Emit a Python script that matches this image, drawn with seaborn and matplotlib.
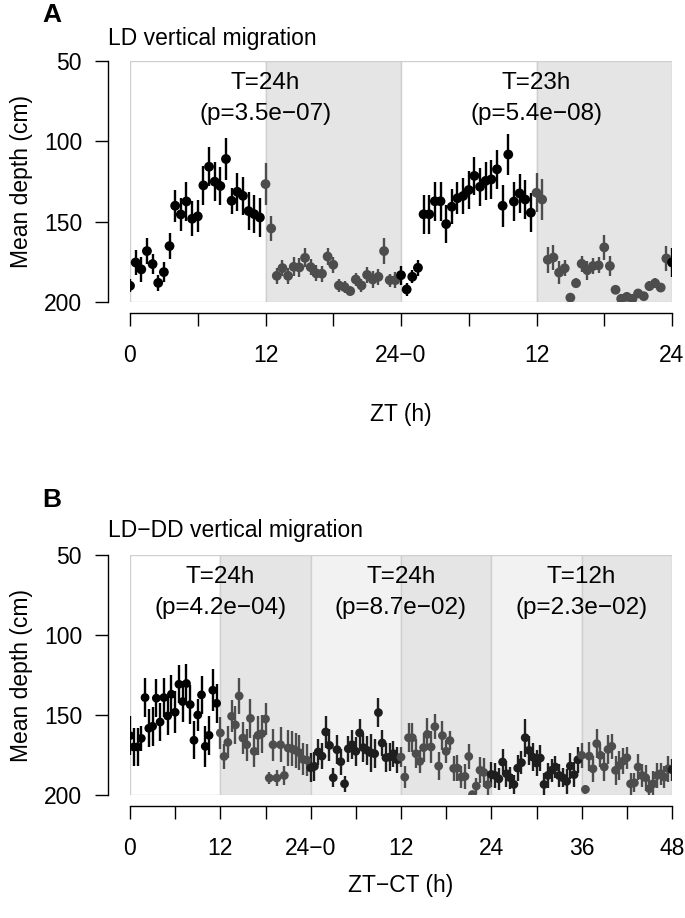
import numpy as np
import pandas as pd
import matplotlib
matplotlib.use("Agg")
import matplotlib.pyplot as plt
import seaborn as sns

# ---- data ----
hours_a = np.arange(0, 48.5, 0.5)
depth_a = [
    189.9, 175.4, 179.7, 168.3, 176.4, 188.1, 181.4, 165.2, 140.1, 145.5,
    137.4, 148.2, 146.7, 127.4, 115.8, 125.1, 127.8, 111.0, 137.0, 131.4,
    133.9, 143.4, 145.3, 147.4, 126.6, 154.2, 183.7, 178.9, 183.7, 178.1,
    178.5, 172.5, 178.3, 182.2, 182.4, 171.7, 176.8, 189.7, 190.7, 193.2,
    186.0, 189.7, 183.1, 186.0, 184.3, 168.3, 186.4, 186.4, 183.3, 192.2,
    184.3, 178.7, 145.4, 145.4, 137.3, 137.3, 151.5, 140.7, 135.4, 134.0,
    130.3, 121.5, 128.3, 124.6, 123.7, 117.4, 140.1, 108.2, 137.5, 132.4,
    136.2, 144.4, 132.0, 136.2, 173.7, 172.3, 181.7, 179.0, 197.3, 188.3,
    176.2, 180.2, 177.6, 177.2, 166.0, 177.6, 192.4, 198.0, 196.8, 198.0,
    194.7, 196.4, 190.1, 188.3, 191.0, 172.9, 175.4,
]
err_a = [
    4, 8, 8, 8, 6, 5, 6, 8, 10, 10,
    12, 11, 10, 12, 12, 12, 12, 13, 8, 12,
    12, 12, 12, 12, 13, 8, 5, 5, 5, 6,
    6, 6, 5, 5, 5, 5, 5, 4, 4, 3,
    4, 4, 5, 5, 5, 8, 4, 5, 6, 4,
    4, 5, 12, 12, 12, 12, 12, 11, 10, 11,
    12, 12, 12, 12, 12, 12, 13, 13, 12, 12,
    12, 12, 12, 13, 8, 8, 7, 5, 2, 3,
    5, 6, 5, 5, 8, 6, 2, 2, 2, 2,
    2, 2, 3, 3, 3, 8, 9,
]

hours_b = np.arange(0, 72.5, 0.5)
depth_b = [
    162.9, 170.0, 170.0, 164.6, 139.1, 158.3, 157.1, 139.5, 154.4, 139.1,
    150.6, 137.0, 148.3, 130.8, 141.6, 130.3, 143.5, 165.8, 150.0, 137.4,
    169.6, 162.7, 134.5, 142.7, 161.2, 175.9, 167.1, 150.8, 156.2, 138.1,
    164.4, 168.6, 152.1, 172.7, 162.7, 161.7, 152.5, 189.4, 168.6, 189.4,
    168.6, 187.8, 170.6, 171.1, 172.1, 173.6, 177.8, 178.2, 183.0, 182.1,
    173.1, 175.7, 160.6, 169.0, 189.2, 171.7, 179.2, 193.0, 171.1, 168.6,
    172.7, 161.2, 170.4, 172.1, 173.6, 174.2, 148.5, 167.5, 176.7, 176.3,
    174.2, 178.0, 176.3, 188.8, 164.2, 164.2, 174.2, 179.0, 170.4, 162.1,
    170.0, 157.3, 181.9, 162.9, 172.7, 166.0, 183.4, 183.2, 188.8, 188.4,
    175.9, 199.7, 194.4, 184.5, 185.9, 193.6, 187.1, 187.8, 189.9, 179.4,
    186.7, 189.2, 193.4, 183.2, 179.8, 164.2, 172.1, 176.3, 180.0, 176.9,
    193.4, 187.8, 184.6, 182.5, 187.8, 189.2, 191.5, 181.9, 187.3, 178.0,
    175.2, 196.5, 175.7, 183.6, 167.9, 175.2, 182.5, 171.5, 169.6, 184.6,
    181.5, 178.8, 176.7, 193.0, 192.4, 182.5, 187.8, 189.2, 196.1, 193.0,
    187.8, 186.7, 188.8, 183.6, 184.2,
]
err_b = [
    12, 12, 12, 8, 12, 12, 12, 12, 12, 12,
    12, 12, 13, 12, 13, 12, 12, 12, 10, 12,
    13, 12, 13, 12, 10, 8, 10, 10, 12, 11,
    10, 10, 12, 10, 12, 12, 10, 4, 10, 5,
    11, 6, 11, 11, 11, 11, 10, 10, 9, 9,
    8, 8, 10, 10, 6, 9, 8, 5, 8, 9,
    9, 9, 9, 9, 12, 9, 9, 8, 9, 9,
    8, 8, 6, 7, 9, 9, 9, 7, 9, 10,
    10, 8, 9, 9, 7, 6, 8, 8, 7, 8,
    8, 2, 5, 8, 9, 7, 8, 8, 7, 8,
    8, 7, 6, 8, 7, 12, 9, 9, 8, 8,
    7, 8, 7, 7, 7, 6, 8, 8, 8, 8,
    8, 3, 9, 8, 9, 7, 9, 9, 8, 9,
    9, 8, 7, 7, 6, 8, 7, 8, 6, 8,
    8, 7, 7, 8, 7,
]

ticks_a = np.arange(0, 49, 6)
ticklabels_a = ["0", "", "12", "", "24\u22120", "", "12", "", "24"]
ticks_b = np.arange(0, 73, 6)
ticklabels_b = ["0", "", "12", "", "24\u22120", "", "12", "", "24", "", "36", "", "48"]

notes_a = [(12, "T=24h", "(p=3.5e\u221207)"), (36, "T=23h", "(p=5.4e\u221208)")]
notes_b = [(12, "T=24h", "(p=4.2e\u221204)"), (36, "T=24h", "(p=8.7e\u221202)"),
           (60, "T=12h", "(p=2.3e\u221202)")]

DARK = "#e5e5e5"
SUBJ = "#f2f2f2"
spans_a = [(0, 12, "white"), (12, 24, DARK), (24, 36, "white"), (36, 48, DARK)]
spans_b = [(0, 12, "white"), (12, 24, DARK), (24, 36, SUBJ), (36, 48, DARK),
           (48, 60, SUBJ), (60, 72, DARK)]

palette = {"light": "#000000", "dark": "#4d4d4d", "subj_day": "#1e1e1e", "subj_night": "#4d4d4d"}

sns.set_style("white")
plt.rcParams["font.family"] = ["Liberation Sans", "DejaVu Sans"]
plt.rcParams.update({"text.color": "black", "axes.labelcolor": "black",
                     "xtick.color": "black", "ytick.color": "black"})
FS = 16.5      # ticks and axis labels
FS_NOTE = 17.5  # period annotations


def phase_a(h):
    return "light" if h % 24 < 12 else "dark"


def phase_b(h):
    if h < 24:
        return "light" if h < 12 else "dark"
    return "subj_day" if (h - 24) % 24 < 12 else "subj_night"


def draw_panel(ax, hours, depth, err, phase_fn, spans, ticks, ticklabels, notes,
               xlabel, size, xlabelpad):
    df = pd.DataFrame({"hour": hours, "depth": depth, "err": err})
    df["phase"] = [phase_fn(h) for h in df["hour"]]

    for x0, x1, c in spans:
        ax.axvspan(x0, x1, facecolor=c, edgecolor="#cfcfcf", linewidth=1.0, zorder=0)

    cols = df["phase"].map(palette)
    ax.vlines(df["hour"], df["depth"] - df["err"], df["depth"] + df["err"],
              colors=cols, linewidth=1.7, zorder=2)
    sns.scatterplot(data=df, x="hour", y="depth", hue="phase", palette=palette,
                    s=size, edgecolor="none", linewidth=0, legend=False, ax=ax, zorder=3)

    for x, t1, t2 in notes:
        ax.text(x, 64, t1, ha="center", va="center", fontsize=FS_NOTE)
        ax.text(x, 83, t2, ha="center", va="center", fontsize=FS_NOTE)

    ax.set_xlim(hours[0], hours[-1])
    ax.set_ylim(200, 50)
    ax.set_yticks([50, 100, 150, 200])
    ax.set_xticks(ticks)
    ax.set_xticklabels(ticklabels)
    ax.tick_params(axis="both", labelsize=FS, length=9.5, width=1.0, color="black",
                   left=True, bottom=True)
    ax.tick_params(axis="x", pad=13)
    ax.tick_params(axis="y", pad=9)
    ax.set_xlabel(xlabel, fontsize=FS, labelpad=xlabelpad)
    ax.set_ylabel("Mean depth (cm)", fontsize=FS, labelpad=8)
    for side in ["top", "right"]:
        ax.spines[side].set_visible(False)
    ax.spines["left"].set_position(("outward", 16))
    ax.spines["bottom"].set_position(("outward", 8))
    for side in ["left", "bottom"]:
        ax.spines[side].set_color("black")
        ax.spines[side].set_linewidth(1.0)


fig = plt.figure(figsize=(6.85, 9.18), dpi=100)
ax_a = fig.add_axes([130 / 685, 1 - 302 / 918, 542 / 685, 241 / 918])
ax_b = fig.add_axes([130 / 685, 1 - 795 / 918, 542 / 685, 240 / 918])

draw_panel(ax_a, hours_a, depth_a, err_a, phase_a, spans_a, ticks_a, ticklabels_a,
           notes_a, "ZT (h)", 50, 26)
draw_panel(ax_b, hours_b, depth_b, err_b, phase_b, spans_b, ticks_b, ticklabels_b,
           notes_b, "ZT\u2212CT (h)", 40, 10)

fig.text(42 / 685, 1 - 15 / 918, "A", fontsize=19, fontweight="bold", va="center")
fig.text(108 / 685, 1 - 38 / 918, "LD vertical migration", fontsize=FS, va="center")
fig.text(42 / 685, 1 - 500 / 918, "B", fontsize=19, fontweight="bold", va="center")
fig.text(108 / 685, 1 - 531 / 918, "LD\u2212DD vertical migration", fontsize=FS, va="center")

fig.savefig("out.png", dpi=100)
